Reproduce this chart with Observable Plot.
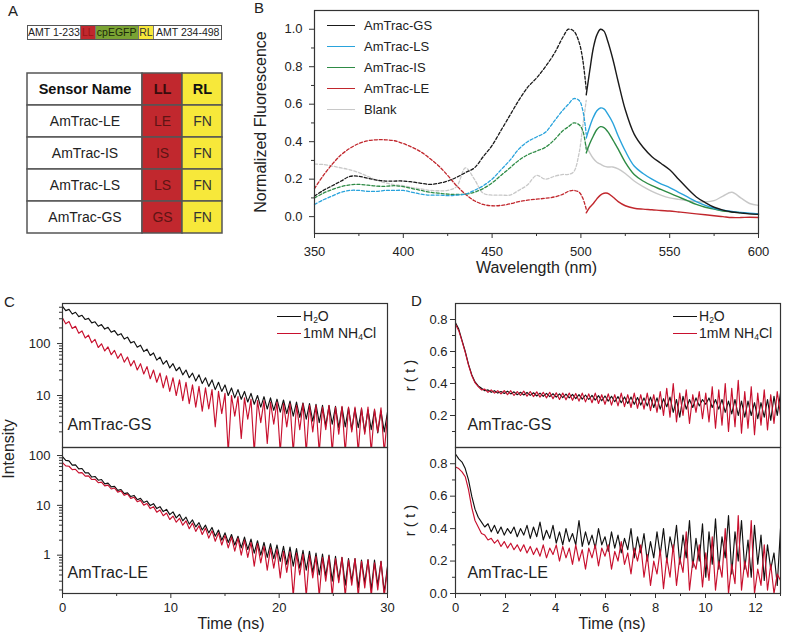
<!DOCTYPE html>
<html><head><meta charset="utf-8">
<script src="https://cdn.jsdelivr.net/npm/d3@7"></script>
<script src="https://cdn.jsdelivr.net/npm/@observablehq/plot@0.6"></script>
<style>
body{margin:0;background:#fff;font-family:"Liberation Sans",Arial,sans-serif;color:#222}
#fig{position:relative;width:786px;height:635px;overflow:hidden;background:#fff}
.letter{font-size:15px;line-height:18px}
.lg{font-size:13px;white-space:nowrap;display:flex;align-items:center;height:16px}
.lg span.sw{display:inline-block;width:28px;height:0;margin-right:9px}
.lg2{font-size:14px;white-space:nowrap;display:flex;align-items:center;height:15px;line-height:15px}
.lg2 span.sw{display:inline-block;width:24px;height:0;margin-right:2px}
.lg2 sub{font-size:8.5px;vertical-align:-2px;line-height:0}
.construct{display:flex;height:15px;border:1px solid #555;box-sizing:border-box;font-size:10.5px;line-height:13px}
.construct div{text-align:center;white-space:nowrap;overflow:hidden;border-right:1px solid #777;box-sizing:border-box}
.construct div:last-child{border-right:none}
.rot{transform:translate(-50%,-50%) rotate(-90deg);white-space:nowrap;font-size:16px}
</style></head>
<body><div id="fig"></div>
<script>
// ---------------- Panel A data ----------------
const constructParts = ["AMT 1-233", "LL", "cpEGFP", "RL", "AMT 234-498"];
const tableHeader = ["Sensor Name", "LL", "RL"];
const sensorNames = ["AmTrac-LE", "AmTrac-IS", "AmTrac-LS", "AmTrac-GS"];
const llCodes = ["LE", "IS", "LS", "GS"];
const rlCodes = ["FN", "FN", "FN", "FN"];

// ---------------- Panel B data ----------------
const wlExc = [350,355,360,365,370,375,380,385,390,395,400,405,410,415,420,425,430,435,440,445,450,455,460,465,470,475,480,485,490,493,496,499,501,503];
const wlEm = [503,505,507,509,511,513,515,518,521,525,530,535,540,545,550,555,560,565,570,575,580,585,590,595,600];
const gsExc = [0.11,0.14,0.165,0.19,0.215,0.215,0.205,0.195,0.19,0.19,0.19,0.185,0.178,0.172,0.178,0.19,0.21,0.235,0.26,0.32,0.38,0.46,0.54,0.62,0.69,0.74,0.80,0.87,0.96,1.0,0.99,0.93,0.84,0.68];
const gsEm = [0.65,0.78,0.9,0.97,1.0,0.99,0.94,0.84,0.72,0.57,0.44,0.37,0.32,0.285,0.25,0.2,0.15,0.105,0.075,0.05,0.035,0.025,0.02,0.015,0.012];
const lsExc = [0.065,0.09,0.11,0.13,0.14,0.14,0.135,0.135,0.14,0.14,0.14,0.13,0.12,0.115,0.115,0.112,0.115,0.12,0.14,0.165,0.2,0.25,0.3,0.36,0.40,0.425,0.45,0.51,0.57,0.60,0.63,0.62,0.57,0.44];
const lsEm = [0.42,0.48,0.53,0.565,0.58,0.575,0.55,0.5,0.43,0.35,0.27,0.23,0.2,0.175,0.155,0.13,0.105,0.08,0.06,0.045,0.035,0.028,0.022,0.018,0.015];
const isExc = [0.1,0.125,0.145,0.16,0.17,0.172,0.168,0.163,0.162,0.165,0.16,0.15,0.14,0.13,0.125,0.12,0.118,0.12,0.13,0.15,0.18,0.22,0.26,0.3,0.33,0.35,0.37,0.41,0.46,0.48,0.5,0.49,0.46,0.36];
const isEm = [0.34,0.39,0.43,0.465,0.48,0.475,0.455,0.41,0.36,0.29,0.225,0.19,0.165,0.145,0.125,0.105,0.085,0.065,0.05,0.04,0.03,0.025,0.02,0.016,0.014];
const leExc = [0.15,0.22,0.28,0.33,0.365,0.39,0.405,0.41,0.41,0.405,0.39,0.37,0.345,0.31,0.27,0.22,0.165,0.12,0.085,0.065,0.058,0.06,0.068,0.08,0.088,0.093,0.098,0.105,0.12,0.135,0.14,0.13,0.1,0.04];
const leEm = [0.02,0.05,0.07,0.095,0.115,0.125,0.125,0.105,0.08,0.058,0.045,0.04,0.037,0.033,0.03,0.025,0.02,0.015,0.01,0.005,0.0,-0.005,-0.005,-0.003,-0.005];
const blankExc = [0.28,0.278,0.27,0.26,0.25,0.235,0.215,0.195,0.18,0.17,0.165,0.155,0.148,0.14,0.138,0.14,0.16,0.26,0.2,0.125,0.115,0.115,0.115,0.14,0.17,0.22,0.2,0.215,0.225,0.225,0.24,0.34,0.48,0.62];
const blankEm = [0.38,0.34,0.31,0.29,0.28,0.27,0.265,0.265,0.255,0.23,0.19,0.16,0.135,0.115,0.1,0.092,0.085,0.08,0.078,0.085,0.11,0.13,0.1,0.07,0.06];
const bLegendNames = ["AmTrac-GS", "AmTrac-LS", "AmTrac-IS", "AmTrac-LE", "Blank"];
const wlTicks = [350, 400, 450, 500, 550, 600];
const wlMinorTicks = [375, 425, 475, 525, 575];
const fluoTicks = [0, 0.2, 0.4, 0.6, 0.8, 1.0];
const fluoMinorTicks = [0.1, 0.3, 0.5, 0.7, 0.9];

// ---------------- Panel C data (intensity, step 0.3 ns) ----------------
const cStepNs = 0.3;
const cGsWater = [520,430,455,370,400,330,350,290,305,250,
262,215,232,190,205,165,178,145,155,122,
133,103,110,85,93,70,78,59,66,48,
55,40,47,34,41,30,35,25,31,22,
27,19,25,17,22,15,20,13,18,12,
16,10,14,9,13,8.5,12,7.5,11,6.8,
10,6,9.5,5.5,9,5.2,8.5,4.8,8.2,4.5,
7.8,4,7.5,3.8,7.2,3.5,7,3.2,6.8,3,
6.5,2.6,6.4,2.8,6.2,2.4,6,2.5,5.8,2.2,
5.6,2.4,5.5,2,5.3,2.2,5.2,1.9,5,2,
4.8];
const cGsNh4 = [310,240,265,195,215,158,175,128,145,104,
120,84,99,72,86,61,74,52,64,44,
55,37,47,31,41,26,36,21,31,18,
27,14,24,12,22,10,20,8,18,7,
16,6,15,5,14,5.5,13,2.5,12,4.5,
11,0.8,10,4,9.5,1.5,9,3.5,8.5,0.8,
8,3,8,1.2,7.5,2.8,7.5,0.8,7,2.5,
7,0.8,6.5,2.2,7,0.8,6.5,2,6.5,0.8,
6,2.2,6.5,0.8,6,1.8,6.2,0.8,6,2,
6,0.8,5.8,1.8,6,0.8,5.5,2,5.8,0.8,
4.2];
const cLeWater = [95,80,78,64,65,54,55,45,45,37,
38,32,33,27,28,23.5,24,20,20.8,17.2,
17.8,15,15.8,13,13.8,11.4,12.2,9.9,10.8,8.6,
9.4,7.5,8.3,6.5,7.4,5.6,6.6,4.9,5.8,4.2,
5.1,3.7,4.5,3.2,4.0,2.8,3.6,2.4,3.2,2.0,
2.8,1.8,2.6,1.6,2.4,1.4,2.3,1.3,2.1,1.1,
1.95,1.0,1.8,0.9,1.7,0.85,1.6,0.75,1.5,0.65,
1.45,0.6,1.35,0.55,1.25,0.5,1.2,0.45,1.1,0.4,
1.05,0.38,1.0,0.3,0.95,0.32,0.9,0.25,0.85,0.3,
0.85,0.22,0.8,0.28,0.82,0.2,0.8,0.25,0.75,0.18,
0.6];
const cLeNh4 = [72,62,61,52,53,45,45.5,38.5,39,33,
33.5,28.5,29.2,24.6,25.5,21.3,22.3,18.4,19.5,15.9,
16.9,13.8,14.6,11.8,12.6,10.1,10.9,8.6,9.4,7.3,
8.1,6.2,7.0,5.2,6.1,4.6,5.5,4.0,4.9,3.4,
4.4,3.0,3.9,2.6,3.5,2.2,3.1,1.9,2.8,1.6,
2.5,1.4,2.3,1.2,2.2,1.0,2.0,0.9,1.8,0.6,
1.7,0.7,1.5,0.5,1.4,0.55,1.3,0.35,1.2,0.45,
1.15,0.15,1.1,0.4,1.05,0.15,1.0,0.35,0.95,0.15,
0.9,0.3,0.95,0.15,0.85,0.28,0.9,0.15,0.8,0.25,
0.85,0.15,0.75,0.22,0.8,0.15,0.7,0.2,0.75,0.15,
0.55];
const cTimeTicks = [0, 10, 20, 30];
const cTimeMinor = [5, 15, 25];
const cUpperTicks = [10, 100];
const cUpperMinor = [2,3,4,5,6,7,8,9,20,30,40,50,60,70,80,90,200,300,400,500];
const cLowerTicks = [1, 10, 100];
const cLowerMinor = [0.2,0.3,0.4,0.5,0.6,0.7,0.8,0.9,2,3,4,5,6,7,8,9,20,30,40,50,60,70,80,90];

// ---------------- Panel D data (anisotropy, step 0.13 ns) ----------------
const dStepNs = 0.13;
const dGsWater = [0.78,0.74,0.67,0.60,0.52,0.455,0.41,0.385,0.37,0.355,
0.36,0.345,0.355,0.34,0.35,0.338,0.352,0.335,0.348,0.33,
0.345,0.328,0.344,0.326,0.342,0.322,0.34,0.32,0.338,0.318,
0.336,0.315,0.335,0.312,0.333,0.31,0.332,0.306,0.33,0.302,
0.328,0.3,0.326,0.296,0.324,0.292,0.322,0.29,0.32,0.286,
0.318,0.28,0.316,0.275,0.315,0.27,0.312,0.265,0.31,0.26,
0.315,0.25,0.31,0.24,0.305,0.255,0.315,0.22,0.3,0.19,
0.32,0.24,0.3,0.25,0.31,0.26,0.3,0.27,0.31,0.25,
0.3,0.24,0.3,0.22,0.29,0.21,0.3,0.2,0.29,0.19,
0.29,0.2,0.28,0.18,0.28,0.19,0.3,0.17,0.32,0.2,
0.34];
const dGsNh4 = [0.77,0.73,0.665,0.595,0.515,0.45,0.405,0.38,0.36,0.365,
0.345,0.36,0.34,0.355,0.335,0.355,0.33,0.355,0.325,0.35,
0.325,0.352,0.32,0.35,0.318,0.348,0.315,0.345,0.31,0.345,
0.305,0.342,0.3,0.34,0.298,0.34,0.295,0.338,0.29,0.34,
0.285,0.335,0.28,0.34,0.275,0.33,0.27,0.335,0.265,0.33,
0.26,0.34,0.255,0.33,0.25,0.34,0.245,0.33,0.24,0.34,
0.23,0.33,0.22,0.35,0.2,0.37,0.19,0.4,0.16,0.34,
0.2,0.36,0.15,0.33,0.22,0.35,0.18,0.34,0.16,0.38,
0.12,0.36,0.14,0.4,0.1,0.37,0.13,0.42,0.09,0.35,
0.12,0.38,0.08,0.34,0.14,0.36,0.11,0.33,0.15,0.35,
0.2];
const dLeWater = [0.86,0.83,0.81,0.77,0.70,0.60,0.52,0.47,0.44,0.41,
0.43,0.38,0.42,0.37,0.41,0.36,0.4,0.37,0.41,0.35,
0.4,0.36,0.42,0.34,0.41,0.35,0.44,0.33,0.39,0.34,
0.42,0.31,0.38,0.3,0.4,0.32,0.37,0.3,0.45,0.29,
0.38,0.3,0.36,0.28,0.4,0.3,0.35,0.26,0.38,0.28,
0.36,0.25,0.34,0.27,0.4,0.22,0.35,0.25,0.37,0.2,
0.32,0.22,0.38,0.24,0.4,0.2,0.35,0.26,0.42,0.18,
0.36,0.22,0.45,0.16,0.34,0.2,0.43,0.1,0.38,0.18,
0.46,0.15,0.35,0.22,0.48,0.12,0.38,0.2,0.45,0.15,
0.33,0.1,0.42,0.18,0.36,0.08,0.3,0.15,0.25,0.05,
0.4];
const dLeNh4 = [0.78,0.77,0.75,0.72,0.64,0.53,0.45,0.41,0.37,0.36,
0.33,0.34,0.31,0.33,0.29,0.32,0.28,0.31,0.27,0.3,
0.26,0.3,0.25,0.29,0.24,0.28,0.23,0.3,0.22,0.28,
0.24,0.3,0.2,0.29,0.22,0.28,0.18,0.3,0.2,0.27,
0.15,0.28,0.22,0.3,0.17,0.28,0.23,0.3,0.15,0.26,
0.2,0.32,0.18,0.25,0.12,0.28,0.2,0.3,0.1,0.24,
0.05,0.2,0.12,0.27,0.03,0.22,0.1,0.3,0.05,0.22,
0.13,0.38,0.02,0.2,0.15,0.3,0.04,0.25,0.08,0.35,
0.02,0.2,0.1,0.4,0.0,0.18,0.06,0.48,0.02,0.2,
0.1,0.45,0.0,0.15,0.05,0.3,0.02,0.18,0.0,0.12,
0.08];
const dTimeTicks = [0, 2, 4, 6, 8, 10, 12];
const dTimeMinor = [1, 3, 5, 7, 9, 11, 13];
const dUpperTicks = [0.2, 0.4, 0.6, 0.8];
const dLowerTicks = [0, 0.2, 0.4, 0.6, 0.8];
const dMinorTicks = [0.1, 0.3, 0.5, 0.7];

// ---------------- styling ----------------
const C_BLACK = "#111", C_RED = "#c8102e";
const FRAME = "#333";
const bColors = {"AmTrac-GS": "#1a1a1a", "AmTrac-LS": "#29a3dc", "AmTrac-IS": "#2e8b45", "AmTrac-LE": "#c1272d", "Blank": "#c8c8c8"};
const LL_RED = "#c1282e", RL_YELLOW = "#f7e83a", GFP_GREEN = "#7aa333";
const style = {fontFamily: '"Liberation Sans", Arial, sans-serif', fontSize: "13px", color: "#222", background: "none", overflow: "visible"};

const fig = document.getElementById("fig");
function place(node, left, top) {
  node.style.position = "absolute"; node.style.left = left + "px"; node.style.top = top + "px";
  fig.appendChild(node); return node;
}
function html(str, left, top, cls) {
  const d = document.createElement("div"); d.innerHTML = str; if (cls) d.className = cls; return place(d, left, top);
}
const fmt1 = d3.format(".1f");
const blank = () => "";

// ---------------- Panel letters ----------------
html("A", 8, 2, "letter");
html("B", 254, -1, "letter");
html("C", 4, 293, "letter");
html("D", 411, 292, "letter");

// ---------------- Panel A: construct ----------------
const partStyles = [
  {bg: "#fff", fg: "#222", w: 53.5},
  {bg: LL_RED, fg: "#9a1616", w: 15},
  {bg: GFP_GREEN, fg: "#1d2a0b", w: 43.3},
  {bg: RL_YELLOW, fg: "#333", w: 16},
  {bg: "#fff", fg: "#222", w: 67.4}
];
const cons = document.createElement("div");
cons.className = "construct";
cons.style.width = "195px";
constructParts.forEach((p, i) => {
  const s = document.createElement("div");
  s.textContent = p;
  s.style.background = partStyles[i].bg; s.style.color = partStyles[i].fg; s.style.width = partStyles[i].w + "px";
  cons.appendChild(s);
});
place(cons, 27, 25);

// ---------------- Panel A: table ----------------
const tableRows = [tableHeader[0], ...sensorNames];
const namesPlot = Plot.plot({
  width: 117, height: 165, margin: 1, style,
  y: {domain: tableRows, padding: 0, axis: null},
  marks: [
    Plot.cell(tableRows, {y: d => d, fill: "white", stroke: "#555", strokeWidth: 1.5}),
    Plot.text([tableHeader[0]], {y: d => d, text: d => d, fontWeight: "bold", fontSize: 14.5, fill: "#111"}),
    Plot.text(sensorNames, {y: d => d, text: d => d, fontSize: 14, fill: "#222"})
  ]
});
place(namesPlot, 26, 70);

const codeCells = tableRows.flatMap((r, i) => [
  {row: r, col: tableHeader[1], text: i === 0 ? tableHeader[1] : llCodes[i - 1], head: i === 0},
  {row: r, col: tableHeader[2], text: i === 0 ? tableHeader[2] : rlCodes[i - 1], head: i === 0}
]);
const isLL = d => d.col === tableHeader[1];
const codesPlot = Plot.plot({
  width: 82, height: 165, margin: 1, style,
  x: {domain: [tableHeader[1], tableHeader[2]], padding: 0, axis: null},
  y: {domain: tableRows, padding: 0, axis: null},
  marks: [
    Plot.cell(codeCells.filter(isLL), {x: "col", y: "row", fill: LL_RED, stroke: "#555", strokeWidth: 1.5}),
    Plot.cell(codeCells.filter(d => !isLL(d)), {x: "col", y: "row", fill: RL_YELLOW, stroke: "#555", strokeWidth: 1.5}),
    Plot.text(codeCells.filter(d => d.head), {x: "col", y: "row", text: "text", fontWeight: "bold", fontSize: 14.5, fill: d => isLL(d) ? "#3a0c0c" : "#111"}),
    Plot.text(codeCells.filter(d => !d.head), {x: "col", y: "row", text: "text", fontSize: 14, fill: d => isLL(d) ? "#5e1414" : "#333"})
  ]
});
place(codesPlot, 141, 70);

// ---------------- Panel B ----------------
const toPts = (wl, vals) => wl.map((w, i) => ({w, v: vals[i]}));
const bSeries = [
  {name: "Blank", exc: blankExc, em: blankEm},
  {name: "AmTrac-LE", exc: leExc, em: leEm},
  {name: "AmTrac-IS", exc: isExc, em: isEm},
  {name: "AmTrac-LS", exc: lsExc, em: lsEm},
  {name: "AmTrac-GS", exc: gsExc, em: gsEm}
];
const bLines = bSeries.flatMap(s => [
  Plot.line(toPts(wlExc, s.exc), {x: "w", y: "v", stroke: bColors[s.name], strokeWidth: 1.3, strokeDasharray: "3,2", curve: "catmull-rom"}),
  Plot.line(toPts(wlEm, s.em), {x: "w", y: "v", stroke: bColors[s.name], strokeWidth: 1.4, curve: "catmull-rom"})
]);
const bPlot = Plot.plot({
  width: 546, height: 285, marginLeft: 74, marginRight: 28, marginTop: 10, marginBottom: 52, style,
  x: {domain: [350, 600]},
  y: {domain: [-0.09, 1.1]},
  marks: [
    Plot.axisX({ticks: wlTicks, tickSize: 5, tickPadding: 8, tickFormat: d => String(d), label: null, stroke: FRAME}),
    Plot.axisX({ticks: wlMinorTicks, tickSize: 3, tickFormat: blank, label: null, stroke: FRAME}),
    Plot.axisY({ticks: fluoTicks, tickSize: 5, tickPadding: 7, tickFormat: fmt1, label: null, stroke: FRAME}),
    Plot.axisY({ticks: fluoMinorTicks, tickSize: 3, tickFormat: blank, label: null, stroke: FRAME}),
    ...bLines,
    Plot.text(["Wavelength (nm)"], {text: d => d, frameAnchor: "bottom", textAnchor: "middle", dy: 39, fontSize: 16}),
    Plot.text(["Normalized Fluorescence"], {text: d => d, frameAnchor: "left", textAnchor: "middle", dx: -54, rotate: -90, fontSize: 16}),
    Plot.frame({stroke: FRAME, strokeWidth: 1.2})
  ]
});
place(bPlot, 240, 0);

bLegendNames.forEach((n, i) => {
  html(`<span class="sw" style="border-top:1.6px solid ${bColors[n]}"></span><span>${n}</span>`, 327, 25.5 + i * 21.1 - 8, "lg");
});

// ---------------- Panel C ----------------
const cTime = cGsWater.map((_, i) => i * cStepNs);
const dTime = dGsWater.map((_, i) => i * dStepNs);
const ser = (vals, times) => vals.map((v, i) => ({t: times[i], v}));
const traceOpts = (color) => ({x: "t", y: "v", stroke: color, strokeWidth: 1.15, clip: true});

const cUpper = Plot.plot({
  width: 400, height: 154, marginLeft: 62, marginRight: 13, marginTop: 10, marginBottom: 0, style,
  x: {domain: [0, 30], axis: null},
  y: {type: "log", domain: [1, 590]},
  marks: [
    Plot.axisY({ticks: cUpperTicks, tickSize: 5, tickPadding: 7, tickFormat: d => String(d), label: null, stroke: FRAME}),
    Plot.axisY({ticks: cUpperMinor, tickSize: 3, tickFormat: blank, label: null, stroke: FRAME}),
    Plot.line(ser(cGsWater, cTime), traceOpts(C_BLACK)),
    Plot.line(ser(cGsNh4, cTime), traceOpts(C_RED)),
    Plot.text(["AmTrac-GS"], {text: d => d, frameAnchor: "bottom-left", textAnchor: "start", dx: 5, dy: -18, fontSize: 16}),
    Plot.frame({stroke: FRAME, strokeWidth: 1.2})
  ]
});
place(cUpper, 0, 293);

const cLower = Plot.plot({
  width: 400, height: 188, marginLeft: 62, marginRight: 13, marginTop: 0, marginBottom: 42, style,
  x: {domain: [0, 30]},
  y: {type: "log", domain: [0.17, 145]},
  marks: [
    Plot.axisX({ticks: cTimeTicks, tickSize: 5, tickPadding: 4, tickFormat: d => String(d), label: null, stroke: FRAME}),
    Plot.axisX({ticks: cTimeMinor, tickSize: 3, tickFormat: blank, label: null, stroke: FRAME}),
    Plot.axisY({ticks: cLowerTicks, tickSize: 5, tickPadding: 7, tickFormat: d => String(d), label: null, stroke: FRAME}),
    Plot.axisY({ticks: cLowerMinor, tickSize: 3, tickFormat: blank, label: null, stroke: FRAME}),
    Plot.line(ser(cLeWater, cTime), traceOpts(C_BLACK)),
    Plot.line(ser(cLeNh4, cTime), traceOpts(C_RED)),
    Plot.text(["AmTrac-LE"], {text: d => d, frameAnchor: "bottom-left", textAnchor: "start", dx: 5, dy: -16, fontSize: 16}),
    Plot.text(["Time (ns)"], {text: d => d, frameAnchor: "bottom", textAnchor: "middle", dx: 6, dy: 35, fontSize: 16}),
    Plot.frame({stroke: FRAME, strokeWidth: 1.2})
  ]
});
place(cLower, 0, 447);
html("Intensity", 9, 449, "rot");

// ---------------- Panel D ----------------
const dUpper = Plot.plot({
  width: 386, height: 154, marginLeft: 55, marginRight: 6, marginTop: 10, marginBottom: 0, style,
  x: {domain: [0, 13], axis: null},
  y: {domain: [0, 0.9]},
  marks: [
    Plot.axisY({ticks: dUpperTicks, tickSize: 5, tickPadding: 3, tickFormat: fmt1, label: null, stroke: FRAME}),
    Plot.axisY({ticks: dMinorTicks, tickSize: 3, tickFormat: blank, label: null, stroke: FRAME}),
    Plot.line(ser(dGsWater, dTime), traceOpts(C_BLACK)),
    Plot.line(ser(dGsNh4, dTime), traceOpts(C_RED)),
    Plot.text(["r ( t )"], {text: d => d, frameAnchor: "left", textAnchor: "middle", dx: -45, rotate: -90, fontSize: 15}),
    Plot.text(["AmTrac-GS"], {text: d => d, frameAnchor: "bottom-left", textAnchor: "start", dx: 12, dy: -18, fontSize: 16}),
    Plot.frame({stroke: FRAME, strokeWidth: 1.2})
  ]
});
place(dUpper, 400, 293);

const dLower = Plot.plot({
  width: 386, height: 188, marginLeft: 55, marginRight: 6, marginTop: 0, marginBottom: 42, style,
  x: {domain: [0, 13]},
  y: {domain: [0, 0.9]},
  marks: [
    Plot.axisX({ticks: dTimeTicks, tickSize: 5, tickPadding: 4, tickFormat: d => String(d), label: null, stroke: FRAME}),
    Plot.axisX({ticks: dTimeMinor, tickSize: 3, tickFormat: blank, label: null, stroke: FRAME}),
    Plot.axisY({ticks: dLowerTicks, tickSize: 5, tickPadding: 3, tickFormat: fmt1, label: null, stroke: FRAME}),
    Plot.axisY({ticks: dMinorTicks, tickSize: 3, tickFormat: blank, label: null, stroke: FRAME}),
    Plot.line(ser(dLeWater, dTime), traceOpts(C_BLACK)),
    Plot.line(ser(dLeNh4, dTime), traceOpts(C_RED)),
    Plot.text(["r ( t )"], {text: d => d, frameAnchor: "left", textAnchor: "middle", dx: -45, rotate: -90, fontSize: 15}),
    Plot.text(["AmTrac-LE"], {text: d => d, frameAnchor: "bottom-left", textAnchor: "start", dx: 12, dy: -16, fontSize: 16}),
    Plot.text(["Time (ns)"], {text: d => d, frameAnchor: "bottom", textAnchor: "middle", dx: -6, dy: 35, fontSize: 16}),
    Plot.frame({stroke: FRAME, strokeWidth: 1.2})
  ]
});
place(dLower, 400, 447);

// legends for C and D
const legendCD = [["H<sub>2</sub>O", C_BLACK], ["1mM NH<sub>4</sub>Cl", C_RED]];
legendCD.forEach(([label, color], i) => {
  html(`<span class="sw" style="border-top:1.6px solid ${color}"></span><span>${label}</span>`, 277, 309 + i * 16.5, "lg2");
  html(`<span class="sw" style="border-top:1.6px solid ${color}"></span><span>${label}</span>`, 673, 309 + i * 16.5, "lg2");
});
</script>
</body></html>
